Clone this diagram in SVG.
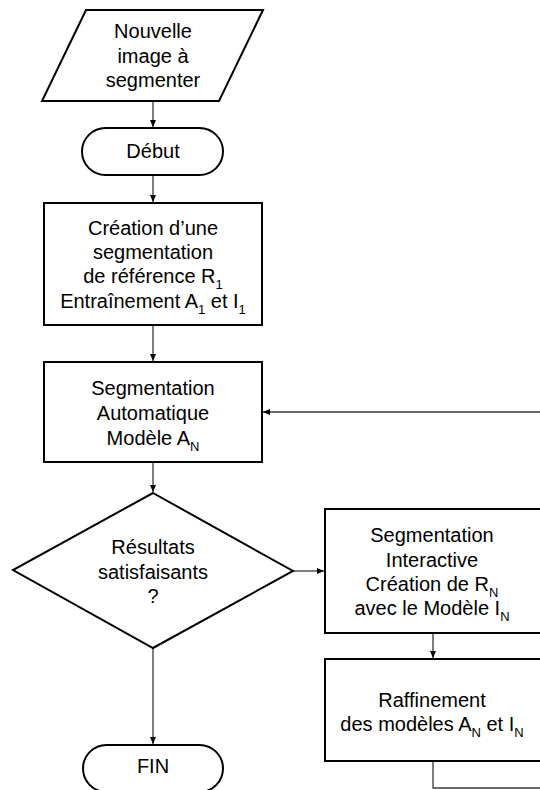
<svg xmlns="http://www.w3.org/2000/svg" width="540" height="790" viewBox="0 0 540 790">
<style>
.s{fill:#fff;stroke:#000;stroke-width:2}
.t{font-family:"Liberation Sans",Arial,sans-serif;font-size:20px;fill:#000;text-anchor:middle}
.c{fill:none;stroke:#3a3a3a;stroke-width:1.3}
</style>
<defs>
<marker id="a" markerWidth="8" markerHeight="8" refX="7" refY="4" orient="auto" markerUnits="userSpaceOnUse">
<path d="M0,1 L7,4 L0,7 Z" fill="#000"/>
</marker>
</defs>
<rect width="540" height="790" fill="#fff"/>
<g id="connectors">
<path class="c" d="M153,101 V127" marker-end="url(#a)"/>
<path class="c" d="M153,175 V202" marker-end="url(#a)"/>
<path class="c" d="M153,325 V361" marker-end="url(#a)"/>
<path class="c" d="M153,462 V492" marker-end="url(#a)"/>
<path class="c" d="M153,648 V744" marker-end="url(#a)"/>
<path class="c" d="M293,571 H324" marker-end="url(#a)"/>
<path class="c" d="M433,633 V658" marker-end="url(#a)"/>
<path class="c" d="M433,761 V788 H560 V412 H263" marker-end="url(#a)"/>
</g>
<g id="input">
<polygon class="s" points="86,10 263,10 219,101 42,101"/>
<text class="t" x="153" y="38">Nouvelle</text>
<text class="t" x="153" y="63">image à</text>
<text class="t" x="153" y="87">segmenter</text>
</g>
<g id="debut">
<rect class="s" x="82" y="128" width="141" height="47" rx="23.5"/>
<text class="t" x="153" y="158">Début</text>
</g>
<g id="creation">
<rect class="s" x="44" y="203" width="218" height="122"/>
<text class="t" x="153" y="235">Création d’une</text>
<text class="t" x="153" y="259">segmentation</text>
<text class="t" x="153" y="283">de référence R<tspan dy="6" font-size="13">1</tspan></text>
<text class="t" x="153" y="308">Entraînement A<tspan dy="6" font-size="13">1</tspan><tspan dy="-6"> et I</tspan><tspan dy="6" font-size="13">1</tspan></text>
</g>
<g id="auto">
<rect class="s" x="44" y="362" width="218" height="100"/>
<text class="t" x="153" y="395">Segmentation</text>
<text class="t" x="153" y="420">Automatique</text>
<text class="t" x="153" y="445">Modèle A<tspan dy="6" font-size="13">N</tspan></text>
</g>
<g id="decision">
<polygon class="s" points="153,493 293,571 153,648 13,570"/>
<text class="t" x="153" y="554">Résultats</text>
<text class="t" x="153" y="579">satisfaisants</text>
<text class="t" x="153" y="603">?</text>
</g>
<g id="fin">
<rect class="s" x="83" y="745" width="140" height="47" rx="23.5"/>
<text class="t" x="153" y="773">FIN</text>
</g>
<g id="interactive">
<rect class="s" x="325" y="509" width="218" height="124"/>
<text class="t" x="432" y="542">Segmentation</text>
<text class="t" x="432" y="567">Interactive</text>
<text class="t" x="432" y="591">Création de R<tspan dy="6" font-size="13">N</tspan></text>
<text class="t" x="432" y="615">avec le Modèle I<tspan dy="6" font-size="13">N</tspan></text>
</g>
<g id="raffinement">
<rect class="s" x="325" y="659" width="218" height="102"/>
<text class="t" x="432" y="707">Raffinement</text>
<text class="t" x="432" y="731">des modèles A<tspan dy="6" font-size="13">N</tspan><tspan dy="-6"> et I</tspan><tspan dy="6" font-size="13">N</tspan></text>
</g>
</svg>
